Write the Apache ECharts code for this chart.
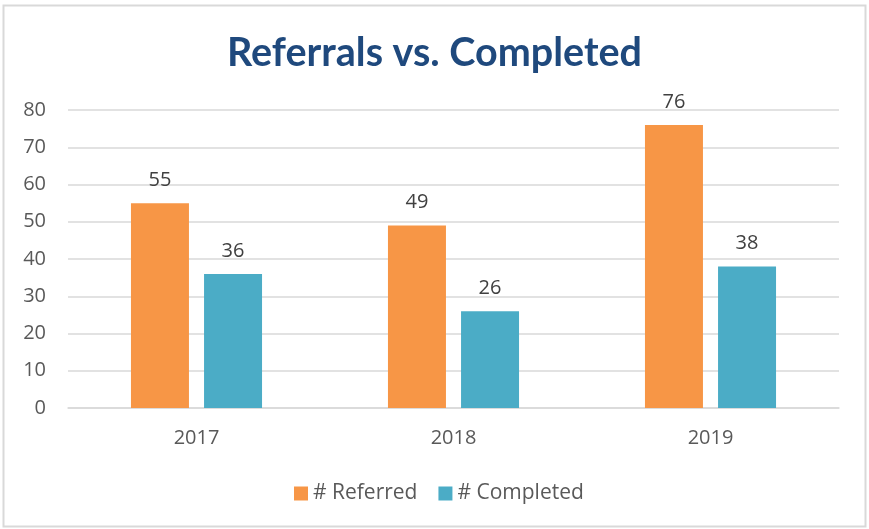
<!DOCTYPE html>
<html>
<head>
<meta charset="utf-8">
<script src="https://cdn.jsdelivr.net/npm/echarts@6/dist/echarts.min.js"></script>
<style>
  html, body { margin: 0; padding: 0; background: #fff; }
  #chart { width: 869px; height: 529px; }
</style>
</head>
<body>
<div id="chart"></div>
<script>
const years = ['2017', '2018', '2019']
const referred = [55, 49, 76]
const completed = [36, 26, 38]

const chart = echarts.init(document.getElementById('chart'))
const labelStyle = {
    show: true,
    position: 'top',
    distance: 13,
    color: '#404040',
    fontSize: 20,
    fontFamily: 'Open Sans'
}

chart.setOption({
    animation: false,
    graphic: [{
        type: 'rect',
        shape: { x: 3.5, y: 5.5, width: 862, height: 521 },
        style: { fill: 'none', stroke: '#D9D9D9', lineWidth: 2 },
        silent: true
    }],
    title: {
        text: 'Referrals vs. Completed',
        left: 'center',
        top: 28,
        textStyle: {
            color: '#1F497D',
            fontSize: 39.5,
            fontWeight: 'bold',
            fontFamily: 'Lato'
        }
    },
    color: ['#F79646', '#4BACC6'],
    legend: {
        bottom: 20,
        left: 289,
        icon: 'rect',
        itemWidth: 14,
        itemHeight: 14,
        itemGap: 21,
        textStyle: { color: '#595959', fontSize: 21, fontFamily: 'Open Sans' },
        data: ['# Referred', '# Completed']
    },
    grid: { left: 68, right: 30, top: 110, bottom: 121 },
    xAxis: {
        type: 'category',
        data: years,
        axisLine: { lineStyle: { color: '#D9D9D9', width: 1.5 } },
        axisTick: { show: false },
        axisLabel: { color: '#595959', fontSize: 20, margin: 20, fontFamily: 'Open Sans' }
    },
    yAxis: {
        type: 'value',
        min: 0,
        max: 80,
        interval: 10,
        axisLine: { show: false },
        axisTick: { show: false },
        splitLine: { lineStyle: { color: '#D9D9D9', width: 1.5 } },
        axisLabel: { color: '#595959', fontSize: 20, margin: 22, fontFamily: 'Open Sans' }
    },
    series: [
        {
            name: '# Referred',
            type: 'bar',
            data: referred,
            barWidth: 58,
            barGap: '26%',
            label: labelStyle
        },
        {
            name: '# Completed',
            type: 'bar',
            data: completed,
            barWidth: 58,
            label: labelStyle
        }
    ]
})
</script>
</body>
</html>
